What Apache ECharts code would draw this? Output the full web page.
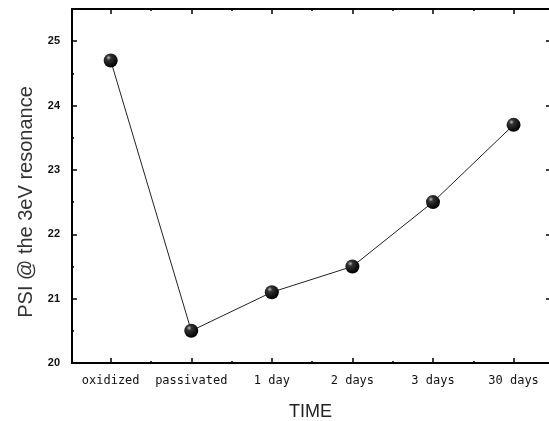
<!DOCTYPE html>
<html>
<head>
<meta charset="utf-8">
<script src="https://cdn.jsdelivr.net/npm/echarts@6/dist/echarts.min.js"></script>
<style>
html,body{margin:0;padding:0;background:#fff;}
#chart{width:549px;height:421px;}
</style>
</head>
<body>
<div id="chart"></div>
<script>
var categories = ['oxidized', 'passivated', '1 day', '2 days', '3 days', '30 days'];
var psiValues = [24.7, 20.5, 21.1, 21.5, 22.5, 23.7];
var yTicks = [20, 21, 22, 23, 24, 25];
var yMinorTicks = [20.5, 21.5, 22.5, 23.5, 24.5];
var xTicks = [1, 2, 3, 4, 5, 6];
var xMinorTicks = [1.5, 2.5, 3.5, 4.5, 5.5];

var myChart = echarts.init(document.getElementById('chart'));

var points = [];
for (var i = 0; i < psiValues.length; i++) {
	points.push([xTicks[i], psiValues[i]]);
}

var xMin = 0.52, xMax = 6.44, yMin = 20, yMax = 25.5;
var lineStyle = {color: '#000', width: 2};

function hiddenAxis(extra) {
	var a = {
		type: 'value', min: 0, max: 1,
		axisLine: {show: false},
		axisLabel: {show: false},
		splitLine: {show: false},
		axisTick: {show: false}
	};
	for (var k in extra) a[k] = extra[k];
	return a;
}

var option = {
	animation: false,
	grid: {left: 72, top: 9, right: 0, bottom: 58, containLabel: false, outerBoundsMode: 'none'},
	xAxis: [
		{
			type: 'value', position: 'bottom', min: xMin, max: xMax,
			name: 'TIME', nameLocation: 'middle', nameGap: 40,
			nameTextStyle: {fontFamily: 'Liberation Sans', fontSize: 18, color: '#222'},
			axisLine: {show: true, lineStyle: lineStyle},
			axisTick: {show: true, inside: true, length: 5, customValues: xTicks, lineStyle: {color: '#000', width: 1.5}},
			axisLabel: {
				customValues: xTicks, margin: 12,
				fontFamily: 'DejaVu Sans Mono', fontSize: 12, color: '#111',
				formatter: function (v) { return categories[Math.round(v) - 1]; }
			},
			splitLine: {show: false}
		},
		hiddenAxis({position: 'bottom', min: xMin, max: xMax,
			axisTick: {show: true, inside: true, length: 2, customValues: xMinorTicks, lineStyle: {color: '#000', width: 1.5}}}),
		hiddenAxis({position: 'top', min: xMin, max: xMax,
			axisLine: {show: true, lineStyle: lineStyle},
			axisTick: {show: true, inside: true, length: 5, customValues: xTicks, lineStyle: {color: '#000', width: 1.5}}}),
		hiddenAxis({position: 'top', min: xMin, max: xMax,
			axisTick: {show: true, inside: true, length: 2, customValues: xMinorTicks, lineStyle: {color: '#000', width: 1.5}}})
	],
	yAxis: [
		{
			type: 'value', position: 'left', min: yMin, max: yMax,
			name: 'PSI @ the 3eV resonance', nameLocation: 'middle', nameGap: 34,
			nameTextStyle: {fontFamily: 'Liberation Sans', fontSize: 20, color: '#333', padding: [0, 32, 0, 0]},
			axisLine: {show: true, lineStyle: lineStyle},
			axisTick: {show: true, inside: true, length: 5, customValues: yTicks, lineStyle: {color: '#000', width: 1.5}},
			axisLabel: {customValues: yTicks, margin: 12, fontFamily: 'Liberation Sans', fontSize: 11, fontWeight: 'bold', color: '#111'},
			splitLine: {show: false}
		},
		hiddenAxis({position: 'left', min: yMin, max: yMax,
			axisTick: {show: true, inside: true, length: 2, customValues: yMinorTicks, lineStyle: {color: '#000', width: 1.5}}}),
		hiddenAxis({position: 'right', min: yMin, max: yMax,
			axisTick: {show: true, inside: true, length: 3, customValues: yTicks, lineStyle: {color: '#000', width: 1.5}}})
	],
	series: [{
		type: 'line',
		data: points,
		symbol: 'circle',
		symbolSize: 14,
		lineStyle: {color: '#222', width: 1},
		itemStyle: {
			color: new echarts.graphic.RadialGradient(0.35, 0.3, 0.7, [
				{offset: 0, color: '#bbb'},
				{offset: 0.25, color: '#333'},
				{offset: 1, color: '#000'}
			]),
			borderWidth: 0
		}
	}]
};
myChart.setOption(option);
</script>
</body>
</html>
